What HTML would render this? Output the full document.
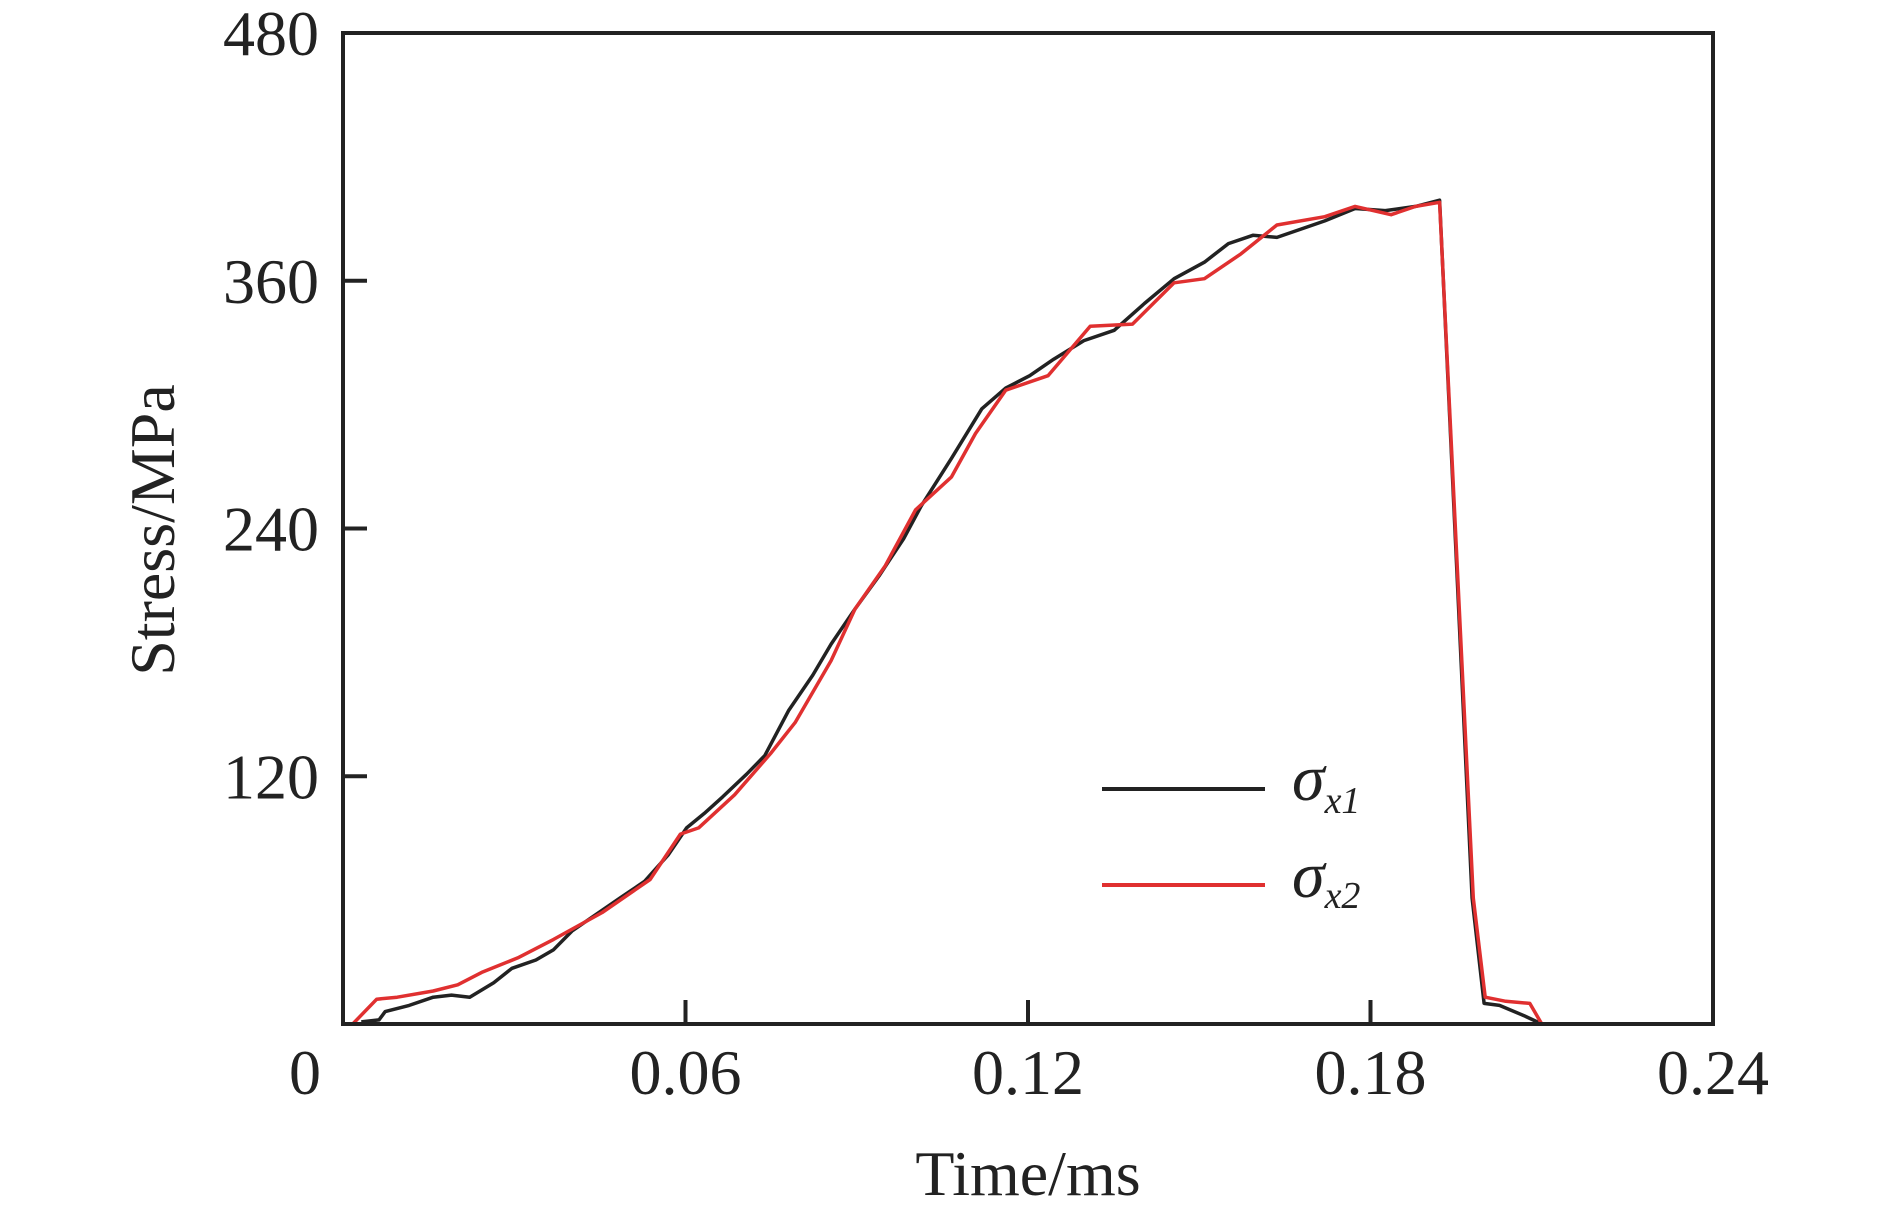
<!DOCTYPE html>
<html><head><meta charset="utf-8"><style>
html,body{margin:0;padding:0;background:#fff;}
svg{display:block;font-family:"Liberation Serif",serif;}
</style></head><body>
<svg id="chart" width="1890" height="1211" viewBox="0 0 1890 1211">
<g id="grid"></g>
<g id="series"></g>
<g id="axes"></g>
<g id="legend">
  <line x1="1102" y1="789" x2="1265" y2="789" stroke="#222" stroke-width="4"/>
  <text x="1292" y="800" font-size="66" font-style="italic" fill="#222">σ<tspan font-size="38" dy="13" dx="0">x1</tspan></text>
  <line x1="1102" y1="885" x2="1265" y2="885" stroke="#e03030" stroke-width="4"/>
  <text x="1292" y="897" font-size="66" font-style="italic" fill="#222">σ<tspan font-size="38" dy="11">x2</tspan></text>
</g>
<text x="1028" y="1195" font-size="64" text-anchor="middle" fill="#222">Time/ms</text>
<text transform="translate(174,530) rotate(-90)" font-size="64" text-anchor="middle" fill="#222">Stress/MPa</text>
</svg>
<script>
const xTicks = [0, 0.06, 0.12, 0.18, 0.24];
const xTickLabels = ["0", "0.06", "0.12", "0.18", "0.24"];
const yTicks = [0, 120, 240, 360, 480];
const yTickLabels = ["", "120", "240", "360", "480"];
const time1 = [0.0032,0.0063,0.0074,0.0116,0.0158,0.0190,0.0222,0.0264,0.0296,0.0338,0.0369,0.0401,0.0443,0.0485,0.0528,0.0570,0.0602,0.0633,0.0665,0.0707,0.0739,0.0781,0.0823,0.0855,0.0897,0.0939,0.0982,0.1013,0.1066,0.1119,0.1161,0.1203,0.1245,0.1298,0.1351,0.1404,0.1456,0.1509,0.1551,0.1594,0.1636,0.1678,0.1720,0.1773,0.1826,0.1879,0.1921,0.1978,0.1999,0.2026,0.2069,0.2100];
const sigmaX1 = [1,2,6,9,13,14,13,20,27,31,36,45,53,61,69,82,95,102,110,121,130,152,169,184,201,217,235,251,274,298,308,314,322,331,336,349,361,369,378,382,381,385,389,395,394,396,399,61,10,9,4,0];
const time2 = [0.0017,0.0059,0.0095,0.0158,0.0201,0.0243,0.0306,0.0369,0.0454,0.0538,0.0591,0.0623,0.0686,0.0749,0.0792,0.0855,0.0897,0.0950,0.1003,0.1066,0.1108,0.1161,0.1235,0.1309,0.1383,0.1456,0.1509,0.1573,0.1636,0.1720,0.1773,0.1836,0.1879,0.1921,0.1980,0.2001,0.2037,0.2079,0.2100,0.2121];
const sigmaX2 = [0,12,13,16,19,25,32,41,54,70,92,95,111,131,146,176,201,222,249,265,286,307,314,338,339,359,361,373,387,391,396,392,396,398,61,13,11,10,0,0];

const NS = "http://www.w3.org/2000/svg";
const L = 343, R = 1713, T = 33, B = 1024;
function xs(v){ return L + (v - 0) / 0.24 * (R - L); }
function ys(v){ return B - (v - 0) / 480 * (B - T); }
function mk(tag, attrs, parent){
  const e = document.createElementNS(NS, tag);
  for (const k in attrs) e.setAttribute(k, attrs[k]);
  parent.appendChild(e);
  return e;
}
const series = document.getElementById('series');
const axes = document.getElementById('axes');

function drawLine(tx, vy, color, name){
  const n = Math.min(tx.length, vy.length);
  let d = "";
  for (let i = 0; i < n; i++) d += (i ? "L" : "M") + xs(tx[i]).toFixed(1) + "," + ys(vy[i]).toFixed(1);
  const p = mk('path', {d: d, fill: 'none', stroke: color, 'stroke-width': 3.5, 'stroke-linejoin': 'round'}, series);
  
  
}
drawLine(time1, sigmaX1, '#222222', 'series-sigma-x1');
drawLine(time2, sigmaX2, '#e03030', 'series-sigma-x2');

const frame = mk('rect', {x: L, y: T, width: R - L, height: B - T, fill: 'none', stroke: '#222', 'stroke-width': 4}, axes);



xTicks.forEach((v, i) => {
  if (i > 0 && i < xTicks.length - 1) {
    const t = mk('line', {x1: xs(v), x2: xs(v), y1: B, y2: B - 24, stroke: '#222', 'stroke-width': 4}, axes);
    
    
  }
  const lx = i === 0 ? xs(v) - 38 : xs(v);
  const lb = mk('text', {x: lx, y: 1094, 'font-size': 64, 'text-anchor': 'middle', fill: '#222'}, axes);
  lb.textContent = xTickLabels[i];
  
  
});
yTicks.forEach((v, i) => {
  if (i > 0 && i < yTicks.length - 1) {
    const t = mk('line', {x1: L, x2: L + 24, y1: ys(v), y2: ys(v), stroke: '#222', 'stroke-width': 4}, axes);
    
    
  }
  if (yTickLabels[i]) {
    const lb = mk('text', {x: 319, y: ys(v) + 22, 'font-size': 64, 'text-anchor': 'end', fill: '#222'}, axes);
    lb.textContent = yTickLabels[i];
    
    
  }
});
</script>
</body></html>
